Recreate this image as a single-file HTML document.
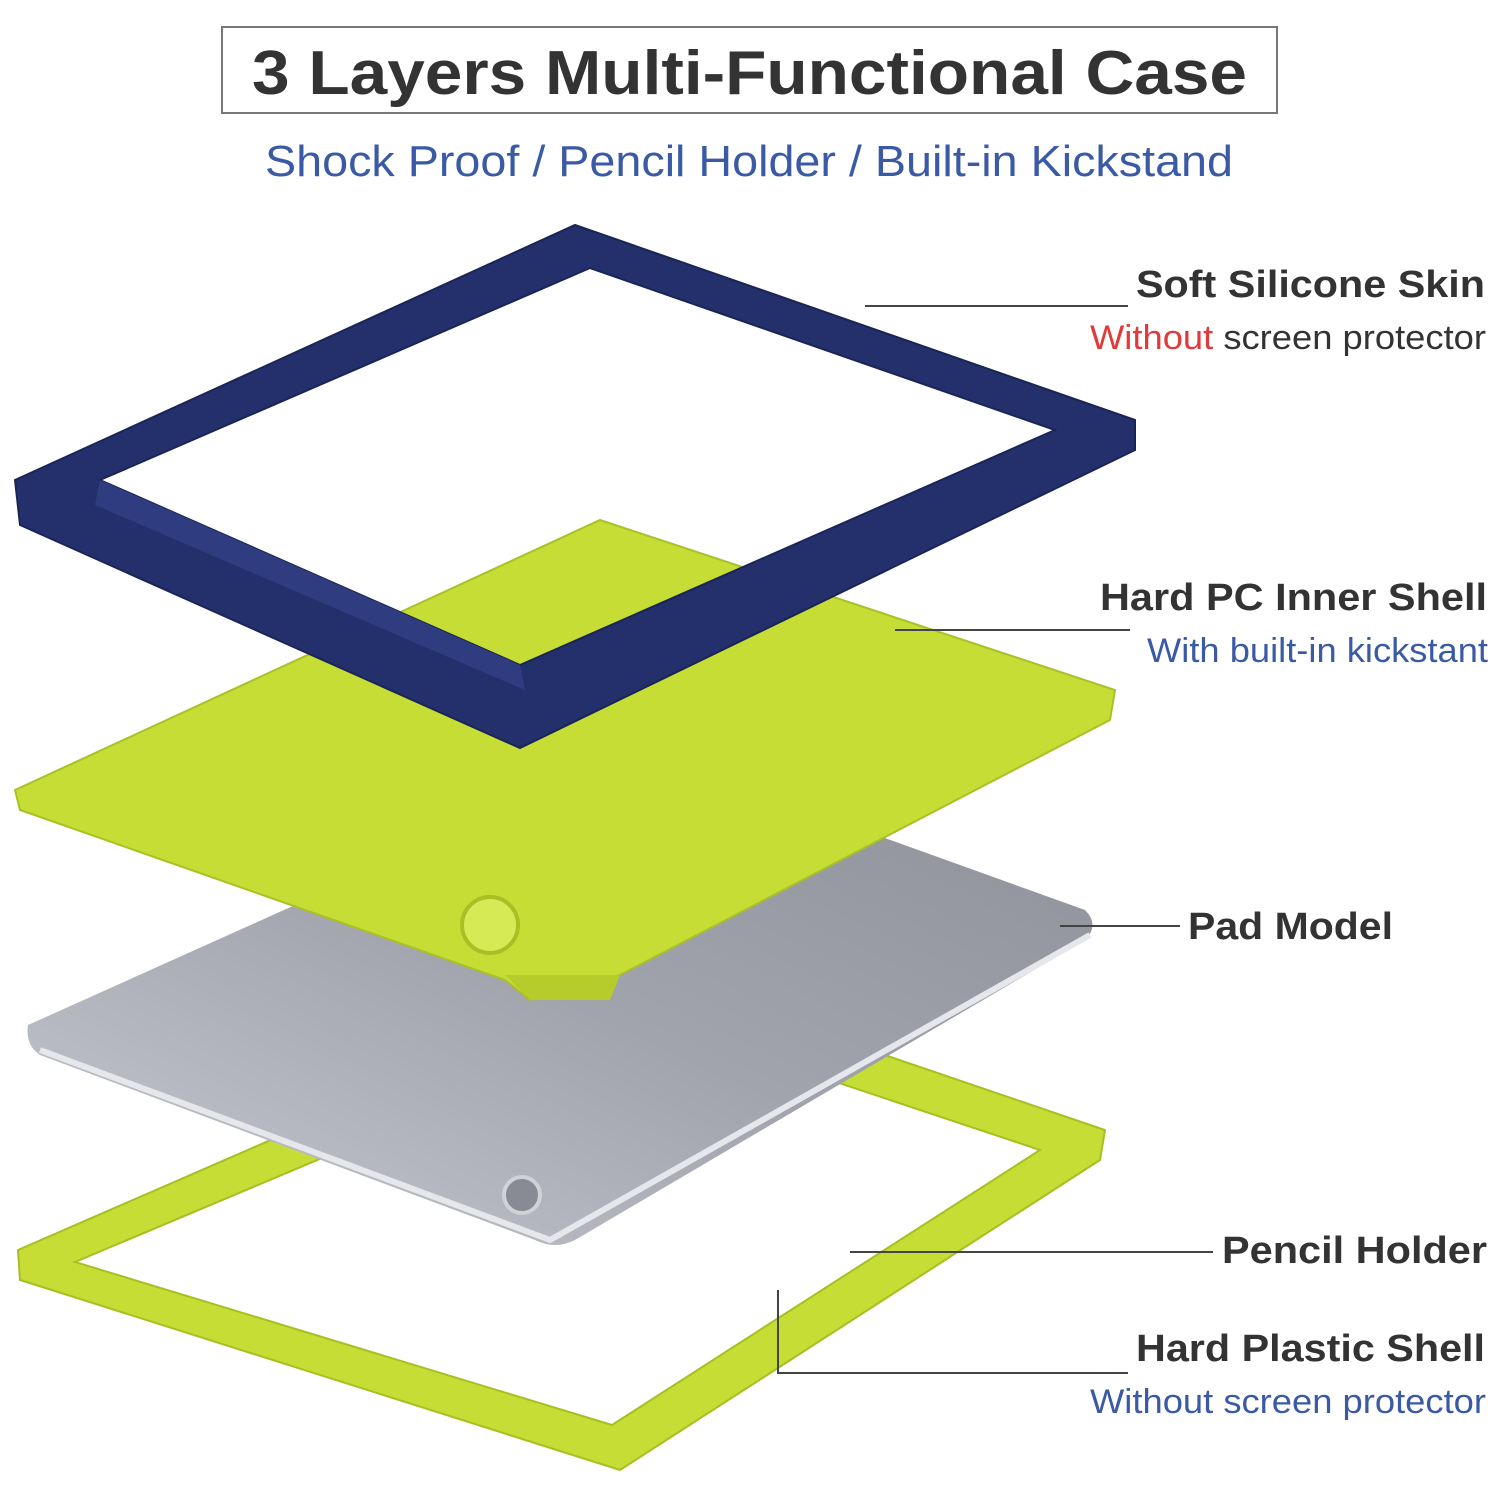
<!DOCTYPE html>
<html><head><meta charset="utf-8"><style>
body{margin:0;width:1500px;height:1500px;background:#fff;overflow:hidden;font-family:"Liberation Sans",sans-serif}
svg{position:absolute;left:0;top:0}
</style></head><body>
<svg width="1500" height="1500" viewBox="0 0 1500 1500">
<defs>
<linearGradient id="pad" x1="0" y1="1" x2="1" y2="0">
<stop offset="0" stop-color="#c9cbd3"/><stop offset="0.5" stop-color="#a2a4ad"/><stop offset="1" stop-color="#8e9099"/></linearGradient>
</defs>
<rect x="222" y="27" width="1055" height="86" fill="none" stroke="#777" stroke-width="2"/>
<text x="252" y="94" textLength="995" lengthAdjust="spacingAndGlyphs" font-size="62" font-weight="bold" fill="#333">3 Layers Multi-Functional Case</text>
<text x="265" y="176" textLength="968" lengthAdjust="spacingAndGlyphs" font-size="44" fill="#3b5aa6">Shock Proof / Pencil Holder / Built-in Kickstand</text>

<!-- bottom lime frame -->
<path fill-rule="evenodd" fill="#c6dd35" stroke="#a8bf22" stroke-width="2" d="M18,1250 L650,975 L1105,1130 L1100,1160 L620,1470 L20,1280 Z M75,1262 L650,1020 L1040,1150 L612,1425 Z"/>
<!-- pad -->
<path fill="url(#pad)" d="M28,1025 L640,750 L1085,910 Q1100,925 1085,940 L575,1240 Q555,1250 535,1240 L40,1055 Q25,1045 28,1025 Z"/>
<path fill="none" stroke="#e6e7ec" stroke-width="6" d="M40,1050 L550,1240 L1090,935"/>
<circle cx="522" cy="1195" r="18" fill="#888b94" stroke="#d0d2d8" stroke-width="4"/>
<!-- lime shell -->
<path fill="#c6dd35" stroke="#a9c126" stroke-width="2" d="M15,790 L600,520 L1115,690 L1110,720 L620,975 L530,1000 L505,980 L20,810 Z"/>
<path fill="#b6cc2a" d="M505,975 L620,975 L610,1000 L530,1000 Z"/>
<circle cx="490" cy="925" r="28" fill="#d6ea55" stroke="#a8c024" stroke-width="4"/>
<!-- navy frame -->
<path fill-rule="evenodd" fill="#23306c" stroke="#1a2556" stroke-width="2" d="M15,480 L575,225 L1135,420 L1135,450 L520,748 L20,525 Z M100,480 L590,268 L1055,430 L520,665 Z"/>
<path fill="#2f3d80" d="M100,480 L520,665 L525,690 L95,505 Z"/>

<!-- labels -->
<g stroke="#444" stroke-width="2" fill="none">
<line x1="865" y1="306" x2="1128" y2="306"/>
<line x1="895" y1="630" x2="1130" y2="630"/>
<line x1="1060" y1="926" x2="1180" y2="926"/>
<line x1="850" y1="1252" x2="1213" y2="1252"/>
<polyline points="778,1290 778,1373 1128,1373"/>
</g>
<g font-size="38" font-weight="bold" fill="#333">
<text x="1136" y="297" textLength="349" lengthAdjust="spacingAndGlyphs">Soft Silicone Skin</text>
<text x="1100" y="610" textLength="387" lengthAdjust="spacingAndGlyphs">Hard PC Inner Shell</text>
<text x="1188" y="939" textLength="205" lengthAdjust="spacingAndGlyphs">Pad Model</text>
<text x="1222" y="1263" textLength="265" lengthAdjust="spacingAndGlyphs">Pencil Holder</text>
<text x="1136" y="1361" textLength="349" lengthAdjust="spacingAndGlyphs">Hard Plastic Shell</text>
</g>
<g font-size="34">
<text x="1090" y="349" textLength="396" lengthAdjust="spacingAndGlyphs" fill="#333"><tspan fill="#e03a3a">Without</tspan> screen protector</text>
<text x="1147" y="662" textLength="341" lengthAdjust="spacingAndGlyphs" fill="#3b5aa6">With built-in kickstant</text>
<text x="1090" y="1413" textLength="396" lengthAdjust="spacingAndGlyphs" fill="#3b5aa6">Without screen protector</text>
</g>
</svg>
</body></html>
